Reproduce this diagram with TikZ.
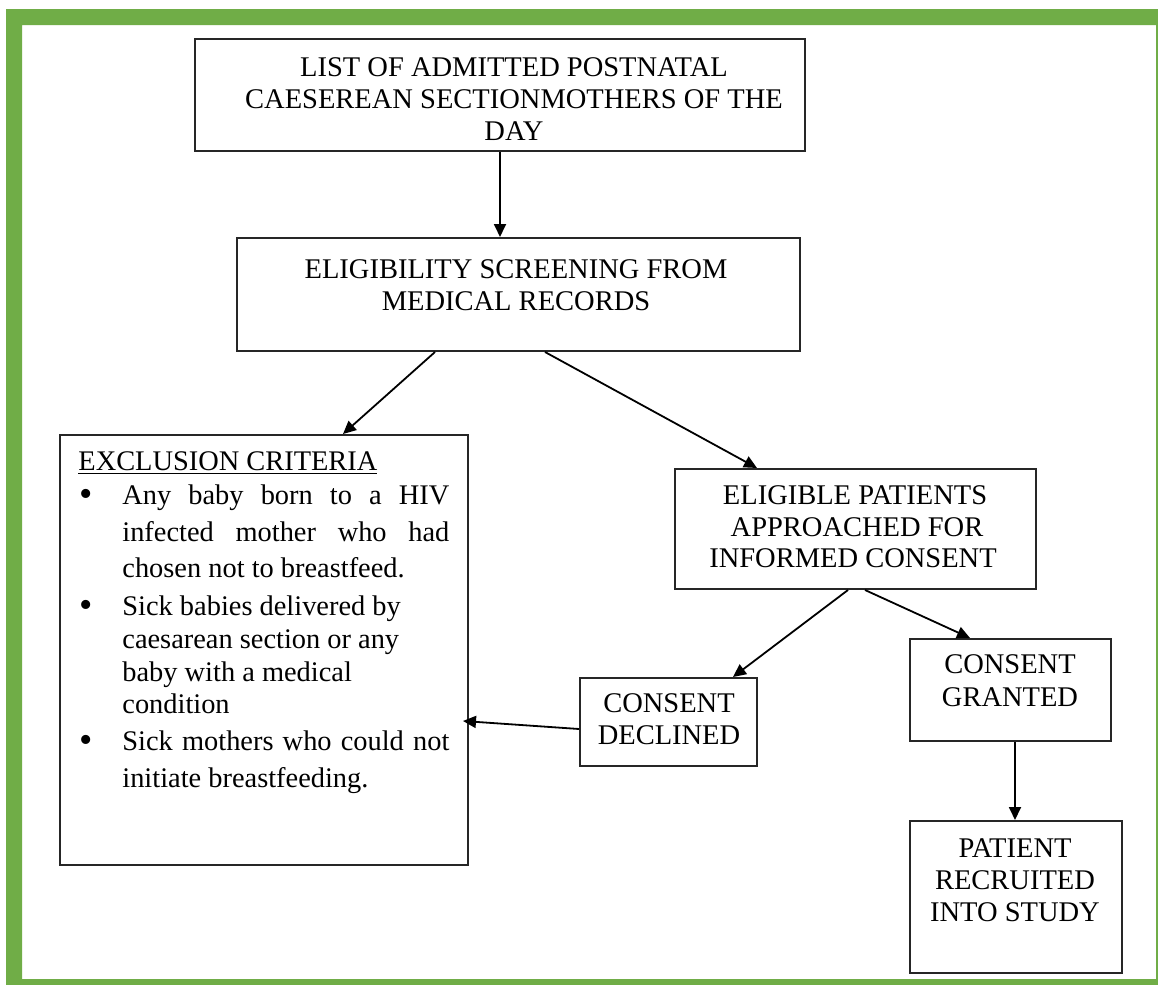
\documentclass[tikz,border=0pt]{standalone}
\usepackage{fontspec}
\setmainfont{Liberation Serif}
\usetikzlibrary{arrows.meta,calc}
\definecolor{frameg}{HTML}{70AD47}
\newcommand{\bigbul}{\raisebox{-1.4pt}{\fontsize{19}{19}\selectfont\textbullet}}
\begin{document}
\begin{tikzpicture}[x=0.5pt,y=-0.5pt,
  box/.style={draw=black!85,line width=1pt,inner sep=0pt,fill=white},
  txt/.style={anchor=base,inner sep=0pt,font=\fontsize{14.25}{16}\selectfont},
  lft/.style={anchor=base west,inner sep=0pt,font=\fontsize{14.2}{16}\selectfont},
  arr/.style={line width=0.9pt,-{Triangle[length=6.5pt,width=6pt]}}]
\useasboundingbox (0,0) rectangle (1158,985);
\fill[white] (0,0) rectangle (1158,985);
\fill[frameg,even odd rule] (6,9) rectangle (1158,985) (22,25) rectangle (1156,979);

% boxes
\node[box,minimum width=305pt,minimum height=56pt] (b1) at (500,95) {};
\node[box,minimum width=281.5pt,minimum height=56.5pt] (b2) at (518.5,294.5) {};
\node[box,minimum width=204pt,minimum height=215pt] (ex) at (264,650) {};
\node[box,minimum width=180.5pt,minimum height=60pt] (el) at (855.5,529) {};
\node[box,minimum width=88.5pt,minimum height=44pt] (de) at (668.5,722) {};
\node[box,minimum width=100.5pt,minimum height=51pt] (gr) at (1010.5,690) {};
\node[box,minimum width=106pt,minimum height=76pt] (pa) at (1016,897) {};

% texts
\node[txt] (t1a) at (514,76) {LIST OF ADMITTED POSTNATAL};
\node[txt] (t1b) at (514,108) {CAESEREAN SECTIONMOTHERS OF THE};
\node[txt] (t1c) at (514,140) {DAY};

\node[txt] (t2a) at (516,278) {ELIGIBILITY SCREENING FROM};
\node[txt] (t2b) at (516,310) {MEDICAL RECORDS};

\node[txt] (tea) at (855,504) {ELIGIBLE PATIENTS};
\node[txt] (teb) at (857,536) {APPROACHED FOR};
\node[txt] (tec) at (853,567) {INFORMED CONSENT};

\node[txt] (tda) at (669,712) {CONSENT};
\node[txt] (tdb) at (669,744) {DECLINED};

\node[txt] (tga) at (1010,673) {CONSENT};
\node[txt] (tgb) at (1010,706) {GRANTED};

\node[txt] (tpa) at (1015,857) {PATIENT};
\node[txt] (tpb) at (1015,889) {RECRUITED};
\node[txt] (tpc) at (1015,921) {INTO STUDY};

% exclusion criteria
\node[lft] (xh) at (78,470) {\underline{EXCLUSION CRITERIA}};
\node[txt] (bu1) at (86,504) {\bigbul};
\node[txt] (bu2) at (86,615) {\bigbul};
\node[txt] (bu3) at (86,750) {\bigbul};
\node[lft] (x1a) at (122,504) {\makebox[163.5pt][s]{Any baby born to a HIV}};
\node[lft] (x1b) at (122,541) {\makebox[163.5pt][s]{infected mother who had}};
\node[lft] (x1c) at (122,577) {chosen not to breastfeed.};
\node[lft] (x2a) at (122,615) {Sick babies delivered by};
\node[lft] (x2b) at (122,648) {caesarean section or any};
\node[lft] (x2c) at (122,681) {baby with a medical};
\node[lft] (x2d) at (122,713) {condition};
\node[lft] (x3a) at (122,750) {\makebox[163.5pt][s]{Sick mothers who could not}};
\node[lft] (x3b) at (122,787) {initiate breastfeeding.};

% connectors
\draw[arr] (b1.south) -- (b1.south |- b2.north);
\draw[arr] ($(b2.south)+(-83.5,0)$) -- ($(ex.north)+(79,0)$);
\draw[arr] ($(b2.south)+(26.5,0)$) -- ($(el.north)+(-98.5,0)$);
\draw[arr] ($(el.south)+(-7.5,0)$) -- ($(de.north)+(64.5,0)$);
\draw[arr] ($(el.south)+(9.5,0)$) -- ($(gr.north)+(-40.5,0)$);
\draw[arr] ($(gr.south)+(4.5,0)$) -- ($(pa.north)+(-1,0)$);
\draw[arr] ($(de.west)+(0,7)$) -- ($(ex.east)+(-6,71)$);
\end{tikzpicture}
\end{document}
